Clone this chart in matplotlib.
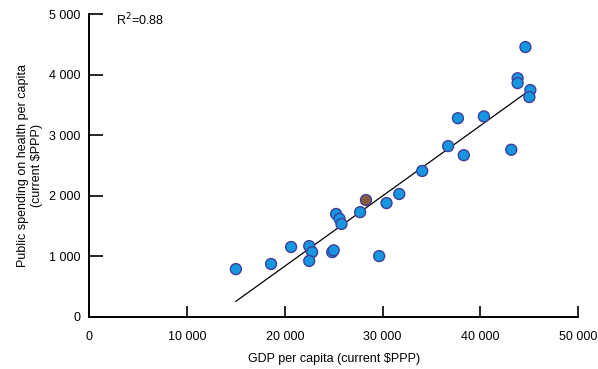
import numpy as np
import matplotlib.pyplot as plt

plt.rcParams['font.family'] = ['Liberation Sans', 'DejaVu Sans']

# GDP per capita vs public health spending per capita (current $PPP)
gdp = [15000, 18600, 20650, 22500, 22800, 22500, 24850, 25000, 25250, 25600,
       25800, 27700, 28300, 30400, 31700, 29650, 34050, 36700, 37700, 38300,
       40350, 43150, 43800, 43800, 44600, 45100, 45000]
health = [790, 875, 1155, 1170, 1070, 925, 1070, 1100, 1700, 1620,
          1535, 1730, 1930, 1880, 2030, 1005, 2410, 2820, 3280, 2670,
          3310, 2760, 3940, 3860, 4455, 3745, 3630]
highlight = 12  # index of the brown point
r2_label = "R$^2$=0.88"

x_ticks = [0, 10000, 20000, 30000, 40000, 50000]
y_ticks = [0, 1000, 2000, 3000, 4000, 5000]

fig = plt.figure(figsize=(5.98, 3.69), dpi=100)
ax = fig.add_axes([0.149, 0.141, 0.818, 0.821])

x = np.array(gdp)
y = np.array(health)
slope, intercept = np.polyfit(x, y, 1)
xl = np.array([x.min(), x.max()])
ax.plot(xl, slope * xl + intercept, color='black', lw=0.9, zorder=2)

colors = ['#1497e0'] * len(gdp)
colors[highlight] = '#8c5a3a'
ax.scatter(x, y, s=62, c=colors, edgecolors='#3f3f99', linewidths=1.0, zorder=3)

ax.set_xlim(0, 50000)
ax.set_ylim(0, 5000)
ax.set_xticks(x_ticks)
ax.set_yticks(y_ticks)
fmt = lambda v: f"{v:,}".replace(",", " ")
ax.set_xticklabels([fmt(v) for v in x_ticks])
ax.set_yticklabels([fmt(v) for v in y_ticks])

for s in ['top', 'right']:
    ax.spines[s].set_visible(False)
for s in ['left', 'bottom']:
    ax.spines[s].set_linewidth(1.4)
ax.tick_params(axis='y', direction='in', length=10, width=1.2, labelsize=9, pad=6)
ax.tick_params(axis='x', direction='in', length=8, width=1.2, labelsize=9, pad=10)

ax.set_xlabel("GDP per capita (current $PPP)", fontsize=9, labelpad=7)
ax.set_ylabel("Public spending on health per capita\n(current $PPP)", fontsize=9, labelpad=4.5)
ax.text(0.056, 0.98, r2_label, transform=ax.transAxes, fontsize=9, va='center', ha='left')

fig.savefig("out.png", dpi=100)
